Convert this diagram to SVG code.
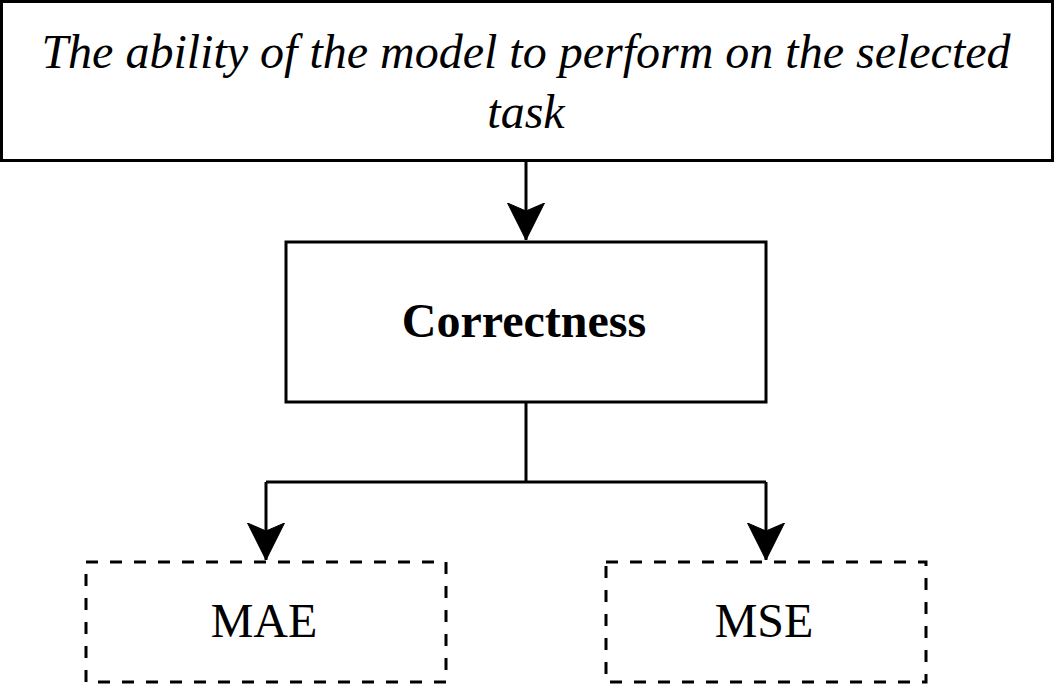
<svg xmlns="http://www.w3.org/2000/svg" width="1056" height="688" viewBox="0 0 1056 688">
<style>
.box{fill:#fff;stroke:#000;stroke-width:3}
.dash{stroke-dasharray:12 12}
.t{font-family:"Liberation Serif","Times New Roman",serif;font-size:48px;fill:#000;text-anchor:middle}
.edge{fill:none;stroke:#000;stroke-width:3}
</style>
<defs>
<marker id="arr" markerUnits="userSpaceOnUse" markerWidth="40" markerHeight="40" viewBox="0 0 40 40" refX="37" refY="20" orient="auto">
<path d="M37,20 L0,1.5 L8,20 L0,38.5 Z" fill="#000" stroke="#000" stroke-width="1"/>
</marker>
</defs>
<rect width="1056" height="688" fill="#fff"/>
<g id="edges">
<path class="edge" d="M526,162 V240" marker-end="url(#arr)"/>
<path class="edge" d="M526,402 V482 M266,482 H766"/>
<path class="edge" d="M266,482 V560" marker-end="url(#arr)"/>
<path class="edge" d="M766,482 V560" marker-end="url(#arr)"/>
</g>
<g id="top">
<rect class="box" x="1.5" y="1.5" width="1051" height="159"/>
<text class="t" x="526" y="68" font-style="italic">The ability of the model to perform on the selected</text>
<text class="t" x="526" y="128" font-style="italic">task</text>
</g>
<g id="correctness">
<rect class="box" x="286" y="242" width="480" height="160"/>
<text class="t" x="524" y="337" font-weight="bold">Correctness</text>
</g>
<g id="mae">
<rect class="box dash" x="86" y="562" width="360" height="120"/>
<text class="t" x="264" y="637">MAE</text>
</g>
<g id="mse">
<rect class="box dash" x="606" y="562" width="320" height="120"/>
<text class="t" x="764" y="637">MSE</text>
</g>
</svg>
